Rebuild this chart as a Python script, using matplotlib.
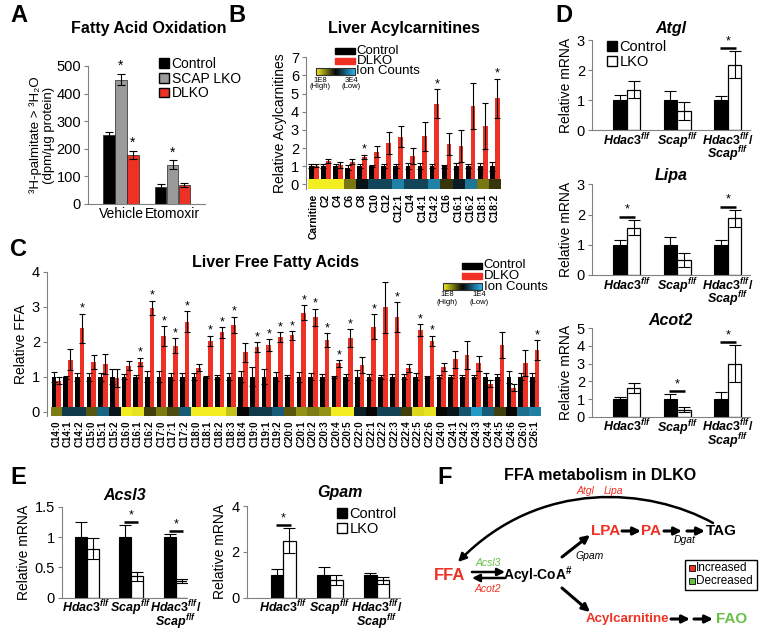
import numpy as np
import matplotlib
matplotlib.use('Agg')
import matplotlib.pyplot as plt
from matplotlib.patches import Patch, Rectangle, FancyArrowPatch
from matplotlib.path import Path
from matplotlib.colors import LinearSegmentedColormap, Normalize

plt.rcParams['font.family'] = ['Liberation Sans', 'DejaVu Sans']
plt.rcParams['mathtext.fontset'] = 'custom'
plt.rcParams['mathtext.it'] = 'Liberation Sans:italic:bold'
plt.rcParams['mathtext.rm'] = 'Liberation Sans:bold'
plt.rcParams['mathtext.bf'] = 'Liberation Sans:bold'

RED = '#ee3124'
GREEN = '#6abf45'
GRAY = '#9a9a9a'
AXC = '#808080'

# ---------------- A: fatty acid oxidation
fao_groups = ['Vehicle', 'Etomoxir']
fao_ctrl = [250, 62]
fao_ctrl_err = [12, 10]
fao_scap = [450, 143]
fao_scap_err = [20, 15]
fao_dlko = [178, 68]
fao_dlko_err = [15, 8]
fao_scap_sig = [True, True]
fao_dlko_sig = [True, False]

# ---------------- B: liver acylcarnitines
acyl_labels = ['Carnitine', 'C2', 'C4', 'C6', 'C8', 'C10', 'C12', 'C12:1', 'C14',
               'C14:1', 'C14:2', 'C16', 'C16:1', 'C16:2', 'C18:1', 'C18:2']
acyl_ctrl = [1.0, 1.0, 1.0, 0.92, 1.0, 1.0, 1.0, 1.0, 1.0, 1.0, 1.0, 1.0, 1.0, 1.0, 1.0, 1.0]
acyl_ctrl_err = [0.1, 0.1, 0.12, 0.12, 0.1, 0.05, 0.12, 0.12, 0.15, 0.15, 0.12, 0.08, 0.15, 0.12, 0.15, 0.25]
acyl_dlko = [1.02, 1.28, 1.06, 1.25, 1.52, 1.80, 2.29, 2.62, 1.56, 2.66, 4.43, 2.22, 2.11, 4.32, 3.21, 4.74]
acyl_dlko_err = [0.08, 0.12, 0.18, 0.15, 0.12, 0.32, 0.6, 0.57, 0.43, 0.8, 0.8, 0.6, 0.9, 1.28, 1.25, 1.07]
acyl_sig = ['C8', 'C14:2', 'C18:2']
acyl_ion_log = [8.0, 8.0, 8.0, 7.1, 6.1, 5.6, 5.6, 5.0, 5.6, 5.6, 5.0, 6.6, 6.0, 5.1, 7.1, 6.6]

# ---------------- C: liver free fatty acids
ffa_labels = ['C14:0', 'C14:1', 'C14:2', 'C15:0', 'C15:1', 'C15:2', 'C16:0', 'C16:1', 'C16:2',
              'C17:0', 'C17:1', 'C17:2', 'C18:0', 'C18:1', 'C18:2', 'C18:3', 'C18:4', 'C19:0',
              'C19:1', 'C19:2', 'C20:0', 'C20:1', 'C20:2', 'C20:3', 'C20:4', 'C20:5', 'C22:0',
              'C22:1', 'C22:2', 'C22:3', 'C22:4', 'C22:5', 'C22:6', 'C24:0', 'C24:1', 'C24:2',
              'C24:3', 'C24:4', 'C24:5', 'C24:6', 'C26:0', 'C26:1']
ffa_ctrl = [1.0, 0.98, 1.0, 1.0, 1.0, 1.0, 1.0, 1.0, 1.0, 1.0, 1.0, 1.0, 1.0, 1.0,
            1.0, 1.0, 1.0, 1.0, 1.0, 1.0, 1.0, 1.0, 1.0, 1.0, 1.0, 1.0, 1.0, 1.0,
            1.0, 1.0, 1.0, 1.0, 1.0, 1.0, 1.0, 1.0, 1.0, 1.0, 1.0, 1.0, 1.0, 1.0]
ffa_ctrl_err = [0.14, 0.05, 0.12, 0.12, 0.12, 0.22, 0.07, 0.04, 0.15, 0.15, 0.1, 0.1, 0.1, 0.03,
                0.06, 0.1, 0.15, 0.27, 0.22, 0.13, 0.05, 0.14, 0.1, 0.08, 0.03, 0.08, 0.19, 0.08,
                0.06, 0.08, 0.07, 0.1, 0.03, 0.05, 0.04, 0.05, 0.05, 0.1, 0.08, 0.17, 0.1, 0.12]
ffa_dlko = [0.89, 1.48, 2.38, 1.41, 1.36, 0.97, 1.32, 1.43, 2.97, 2.17, 1.89, 2.57, 1.25, 2.03,
            2.27, 2.48, 1.70, 1.85, 1.90, 2.14, 2.18, 2.83, 2.70, 2.05, 1.38, 2.10, 1.33, 2.43,
            2.98, 2.70, 1.25, 2.33, 2.02, 1.28, 1.50, 1.62, 1.38, 0.80, 1.90, 0.68, 1.39, 1.76]
ffa_dlko_err = [0.1, 0.3, 0.42, 0.2, 0.28, 0.25, 0.14, 0.11, 0.2, 0.28, 0.21, 0.3, 0.1, 0.14,
                0.15, 0.23, 0.27, 0.13, 0.17, 0.14, 0.12, 0.22, 0.24, 0.19, 0.1, 0.25, 0.22, 0.35,
                0.73, 0.43, 0.12, 0.17, 0.15, 0.11, 0.24, 0.41, 0.21, 0.1, 0.37, 0.1, 0.37, 0.29]
ffa_sig = ['C14:2', 'C16:1', 'C16:2', 'C17:0', 'C17:1', 'C17:2', 'C18:1', 'C18:2', 'C18:3',
           'C19:0', 'C19:1', 'C19:2', 'C20:0', 'C20:1', 'C20:2', 'C20:3', 'C20:4', 'C20:5',
           'C22:1', 'C22:3', 'C22:5', 'C22:6', 'C26:1']
ffa_ion_log = [7.0, 5.4, 5.4, 6.7, 4.9, 5.8, 8.0, 7.9, 6.5, 7.0, 6.6, 5.0, 8.0, 8.0, 8.0, 7.6,
               6.0, 5.4, 5.4, 5.0, 6.7, 7.2, 7.0, 7.2, 8.0, 8.0, 5.7, 6.0, 5.3, 5.3, 6.5, 7.8,
               7.9, 6.0, 5.8, 5.1, 4.3, 5.0, 6.5, 6.0, 4.8, 4.6]

# ---------------- D / E: relative mRNA
genotypes = [r'$\mathit{Hdac3}^{\mathit{f/f}}$', r'$\mathit{Scap}^{\mathit{f/f}}$',
             r'$\mathit{Hdac3}^{\mathit{f/f}}\mathit{/}$' + '\n' + r'$\mathit{Scap}^{\mathit{f/f}}$']
atgl_ctrl, atgl_ctrl_err = [1.0, 1.0, 1.0], [0.18, 0.3, 0.13]
atgl_lko, atgl_lko_err = [1.35, 0.62, 2.18], [0.28, 0.3, 0.45]
atgl_sig = [False, False, True]
lipa_ctrl, lipa_ctrl_err = [1.0, 1.0, 1.0], [0.17, 0.25, 0.17]
lipa_lko, lipa_lko_err = [1.57, 0.5, 1.87], [0.25, 0.24, 0.28]
lipa_sig = [True, False, True]
acot2_ctrl, acot2_ctrl_err = [1.0, 1.0, 1.0], [0.1, 0.28, 0.38]
acot2_lko, acot2_lko_err = [1.6, 0.4, 3.0], [0.28, 0.15, 1.05]
acot2_sig = [False, True, True]
acsl3_ctrl, acsl3_ctrl_err = [1.0, 1.0, 1.0], [0.25, 0.2, 0.05]
acsl3_lko, acsl3_lko_err = [0.81, 0.35, 0.27], [0.17, 0.08, 0.03]
acsl3_sig = [False, True, True]
gpam_ctrl, gpam_ctrl_err = [1.0, 1.0, 1.0], [0.25, 0.35, 0.05]
gpam_lko, gpam_lko_err = [2.48, 0.75, 0.75], [0.55, 0.22, 0.15]
gpam_sig = [True, False, False]

W, H = 763, 632
fig = plt.figure(figsize=(W / 100, H / 100), dpi=100)


def px_axes(left, right, top, bottom):
    return fig.add_axes([left / W, 1 - bottom / H, (right - left) / W, (bottom - top) / H])


def style_axes(ax):
    for s in ['top', 'right']:
        ax.spines[s].set_visible(False)
    for s in ['left', 'bottom']:
        ax.spines[s].set_color(AXC)
        ax.spines[s].set_linewidth(0.8)
    ax.tick_params(axis='y', length=3, color=AXC, width=0.8, pad=2)
    ax.tick_params(axis='x', length=0, pad=2)


ion_cmap = LinearSegmentedColormap.from_list('ion', ['#2ab4e8', '#050505', '#f2ee22'])

# ---------------- panel A
axA = px_axes(88, 205, 66, 204)
style_axes(axA)
xa = np.arange(len(fao_groups))
bw = 0.22
for off, vals, errs, col in [(-0.23, fao_ctrl, fao_ctrl_err, 'black'),
                             (0.0, fao_scap, fao_scap_err, GRAY),
                             (0.23, fao_dlko, fao_dlko_err, RED)]:
    axA.bar(xa + off, vals, bw, color=col, edgecolor='#222222', linewidth=0.5)
    axA.errorbar(xa + off, vals, yerr=errs, fmt='none', ecolor='k', elinewidth=0.8,
                 capsize=3, capthick=0.8)
for i in range(len(fao_groups)):
    if fao_scap_sig[i]:
        axA.text(xa[i], fao_scap[i] + fao_scap_err[i] + 4, '*', ha='center', va='bottom', fontsize=10)
    if fao_dlko_sig[i]:
        axA.text(xa[i] + 0.23, fao_dlko[i] + fao_dlko_err[i] + 4, '*', ha='center', va='bottom', fontsize=10)
axA.set_xlim(-0.64, 1.63)
axA.set_ylim(0, 500)
axA.set_yticks([0, 100, 200, 300, 400, 500])
axA.set_xticks(xa)
axA.set_xticklabels(fao_groups, fontsize=10)
axA.tick_params(axis='y', labelsize=10.5)
axA.set_ylabel('³H-palmitate > ³H₂O\n(dpm/µg protein)', fontsize=9.5, labelpad=1, linespacing=1.1)
axA.legend(handles=[Patch(facecolor='black', edgecolor='k', label='Control'),
                    Patch(facecolor=GRAY, edgecolor='k', label='SCAP LKO'),
                    Patch(facecolor=RED, edgecolor='k', label='DLKO')],
           loc='upper left', bbox_to_anchor=(159 / W, 1 - 57 / H), bbox_transform=fig.transFigure,
           frameon=False, fontsize=10, handlelength=0.7, handleheight=0.7, handletextpad=0.2,
           labelspacing=0.05, borderpad=0, borderaxespad=0)


def strip_panel(ax, labels, ctrl, ctrl_err, dlko, dlko_err, sig, ion_log, norm, h, star_pad):
    style_axes(ax)
    ax.spines['bottom'].set_visible(False)
    x = np.arange(len(labels))
    ax.bar(x - 0.2, ctrl, 0.4, color='black', zorder=2)
    ax.bar(x + 0.2, dlko, 0.4, color=RED, zorder=2)
    ax.errorbar(x - 0.2, ctrl, yerr=ctrl_err, fmt='none', ecolor='k', elinewidth=0.8,
                capsize=2.5, capthick=0.8, zorder=4)
    ax.errorbar(x + 0.2, dlko, yerr=dlko_err, fmt='none', ecolor='k', elinewidth=0.8,
                capsize=2.5, capthick=0.8, zorder=4)
    ax.bar(x, 2 * h, 1.0, bottom=-h, color=ion_cmap(norm(np.array(ion_log))), zorder=3)
    for i, lab in enumerate(labels):
        if lab in sig:
            ax.text(x[i] + 0.2, dlko[i] + dlko_err[i] + star_pad, '*', ha='center', va='bottom',
                    fontsize=9, zorder=5)
    ax.set_xticks(x)
    ax.set_xticklabels(labels, rotation=90, fontweight='bold', fontsize=7.5)
    ax.tick_params(axis='x', pad=3)


# ---------------- panel B
axB = px_axes(306, 502, 57.3, 189.4)
strip_panel(axB, acyl_labels, acyl_ctrl, acyl_ctrl_err, acyl_dlko, acyl_dlko_err, acyl_sig,
            acyl_ion_log, Normalize(np.log10(3e4), 8), 0.28, -0.05)
axB.set_xlim(-0.65, 15.6)
axB.set_ylim(-0.28, 7)
axB.set_yticks(range(8))
axB.tick_params(axis='y', labelsize=10.5)
axB.set_ylabel('Relative Acylcarnitines', fontsize=10, labelpad=3)

# ---------------- panel C
axC = px_axes(47, 543, 271.7, 416.3)
strip_panel(axC, ffa_labels, ffa_ctrl, ffa_ctrl_err, ffa_dlko, ffa_dlko_err, ffa_sig,
            ffa_ion_log, Normalize(4, 8), 0.13, -0.03)
axC.set_xlim(-0.8, 41.7)
axC.set_ylim(-0.13, 4)
axC.set_yticks(range(5))
axC.tick_params(axis='y', labelsize=10.5)
axC.tick_params(axis='x', labelsize=7)
axC.set_ylabel('Relative FFA', fontsize=10, labelpad=3)


def mrna_panel(rect, title, ctrl, ctrl_err, lko, lko_err, sig, ymax, yticks, xlim, legend_at=None,
               title_pad=5):
    ax = px_axes(*rect)
    style_axes(ax)
    x = np.arange(len(genotypes))
    ax.bar(x - 0.135, ctrl, 0.27, color='black', edgecolor='black', linewidth=0.8)
    ax.bar(x + 0.135, lko, 0.27, color='white', edgecolor='black', linewidth=0.9)
    ax.errorbar(x - 0.135, ctrl, yerr=ctrl_err, fmt='none', ecolor='k', elinewidth=0.8,
                capsize=4, capthick=0.8)
    ax.errorbar(x + 0.135, lko, yerr=lko_err, fmt='none', ecolor='k', elinewidth=0.8,
                capsize=4, capthick=0.8)
    for i in range(len(x)):
        if sig[i]:
            top = max(ctrl[i] + ctrl_err[i], lko[i] + lko_err[i]) + 0.035 * ymax
            ax.plot([x[i] - 0.16, x[i] + 0.16], [top, top], color='k', lw=1.8, solid_capstyle='butt')
            ax.text(x[i], top + 0.01 * ymax, '*', ha='center', va='bottom', fontsize=9)
    ax.set_xlim(*xlim)
    ax.set_ylim(0, ymax)
    ax.set_yticks(yticks)
    ax.set_yticklabels([f'{t:g}' for t in yticks])
    ax.tick_params(axis='y', labelsize=10.5)
    ax.tick_params(axis='x', pad=1)
    ax.set_xticks(x)
    ax.set_xticklabels(genotypes, fontsize=9, linespacing=0.75)
    ax.set_ylabel('Relative mRNA', fontsize=10, labelpad=3)
    ax.set_title(title, fontsize=11.5, fontweight='bold', style='italic', pad=title_pad)
    if legend_at is not None:
        ax.legend(handles=[Patch(facecolor='black', edgecolor='k', label='Control'),
                           Patch(facecolor='white', edgecolor='k', label='LKO')],
                  loc='upper left', bbox_to_anchor=(legend_at[0] / W, 1 - legend_at[1] / H),
                  bbox_transform=fig.transFigure, frameon=False, fontsize=10.5, handlelength=0.7,
                  handleheight=0.7, handletextpad=0.15, labelspacing=0.05, borderpad=0,
                  borderaxespad=0)
    return ax


mrna_panel((592, 750, 40, 130), 'Atgl', atgl_ctrl, atgl_ctrl_err, atgl_lko, atgl_lko_err,
           atgl_sig, 3, [0, 1, 2, 3], (-0.69, 2.44), legend_at=(607, 40))
mrna_panel((592, 750, 184.3, 275), 'Lipa', lipa_ctrl, lipa_ctrl_err, lipa_lko, lipa_lko_err,
           lipa_sig, 3, [0, 1, 2, 3], (-0.69, 2.44), title_pad=3)
mrna_panel((592, 750, 328.3, 416.7), 'Acot2', acot2_ctrl, acot2_ctrl_err, acot2_lko, acot2_lko_err,
           acot2_sig, 5, [0, 1, 2, 3, 4, 5], (-0.69, 2.44), title_pad=1)
mrna_panel((62, 187, 507, 597.5), 'Acsl3', acsl3_ctrl, acsl3_ctrl_err, acsl3_lko, acsl3_lko_err,
           acsl3_sig, 1.5, [0, 0.5, 1, 1.5], (-0.55, 2.25))
mrna_panel((246.7, 400, 506, 597.5), '', gpam_ctrl, gpam_ctrl_err, gpam_lko, gpam_lko_err,
           gpam_sig, 4, [0, 2, 4], (-0.78, 2.5), legend_at=(337, 507))

# ---------------- overlay (pixel coordinates): letters, titles, ion legends, panel F
ov = fig.add_axes([0, 0, 1, 1])
ov.axis('off')
ov.patch.set_alpha(0)

for letter, (lx, ly) in {'A': (10, 15), 'B': (228, 15), 'C': (10, 249), 'D': (555, 15),
                         'E': (10, 477), 'F': (437, 477)}.items():
    ov.text(lx, ly, letter, fontsize=17, fontweight='bold', va='center', ha='left')

ov.text(149, 28, 'Fatty Acid Oxidation', fontsize=11.5, fontweight='bold', ha='center', va='center')
ov.text(404, 28, 'Liver Acylcarnitines', fontsize=11.5, fontweight='bold', ha='center', va='center')
ov.text(275, 263, 'Liver Free Fatty Acids', fontsize=11.5, fontweight='bold', ha='center', va='center')
ov.text(340, 492, 'Gpam', fontsize=11.5, fontweight='bold', style='italic', ha='center', va='center')


def ion_legend(x0, y0, dy, grad_w, hi, lo, hi_pos, lo_pos, fs_small):
    ov.add_patch(Rectangle((x0 + grad_w - 20, y0 - 3), 20, 6, color='black'))
    ov.add_patch(Rectangle((x0 + grad_w - 20, y0 + dy - 3), 20, 6, color=RED))
    grad = np.linspace(1, 0, 60)[None, :]
    gy = y0 + 2 * dy
    ov.imshow(grad, cmap=ion_cmap, extent=[x0, x0 + grad_w, gy + 3.5, gy - 3.5], aspect='auto',
              zorder=2)
    ov.add_patch(Rectangle((x0, gy - 3.5), grad_w, 7, fill=False, edgecolor='#333333', lw=0.8,
                           zorder=3))
    tx = x0 + grad_w + 1.5
    ov.text(tx, y0, 'Control', fontsize=9.5, va='center')
    ov.text(tx, y0 + dy, 'DLKO', fontsize=9.5, va='center')
    ov.text(tx, gy, 'Ion Counts', fontsize=9.5, va='center')
    ov.text(x0 + grad_w * hi_pos, gy + 5, hi + '\n(High)', fontsize=fs_small, ha='center', va='top',
            linespacing=1.0)
    ov.text(x0 + grad_w * lo_pos, gy + 5, lo + '\n(Low)', fontsize=fs_small, ha='center', va='top',
            linespacing=1.0)


ion_legend(316, 50.5, 10.5, 39, '1E8', '3E4', 0.1, 0.9, 5.5)
ion_legend(443, 265.5, 10.5, 39, '1E8', '1E4', 0.1, 0.92, 5.5)

# panel F diagram
ov.text(600, 475, 'FFA metabolism in DLKO', fontsize=11.5, fontweight='bold', ha='center', va='center')
ov.text(585, 491, 'Atgl', color=RED, fontsize=7.5, style='italic', ha='center', va='center')
ov.text(613, 491, 'Lipa', color=RED, fontsize=7.5, style='italic', ha='center', va='center')
curve = Path([(713, 523), (650, 488), (540, 478), (458, 562)],
             [Path.MOVETO, Path.CURVE4, Path.CURVE4, Path.CURVE4])
ov.add_patch(FancyArrowPatch(path=curve, arrowstyle='-|>', mutation_scale=12, lw=1.8, color='k'))


def arr(x1, y1, x2, y2, lw=2.2):
    ov.annotate('', xy=(x2, y2), xytext=(x1, y1),
                arrowprops=dict(arrowstyle='-|>', lw=lw, color='k', mutation_scale=11,
                                shrinkA=0, shrinkB=0))


ov.text(450, 575, 'FFA', color=RED, fontsize=12, fontweight='bold', ha='center', va='center')
arr(472, 572, 505, 572, lw=1.8)
arr(505, 578, 472, 578, lw=1.8)
ov.text(488, 563, 'Acsl3', color=GREEN, fontsize=7.5, style='italic', ha='center', va='center')
ov.text(488, 589, 'Acot2', color=RED, fontsize=7.5, style='italic', ha='center', va='center')
ov.text(503, 575, r'Acyl-CoA$^{\#}$', fontsize=10, fontweight='bold', ha='left', va='center')
arr(562, 557, 590, 535)
ov.text(575, 556, 'Gpam', fontsize=7.5, style='italic', ha='left', va='center')
ov.text(606, 531, 'LPA', color=RED, fontsize=11, fontweight='bold', ha='center', va='center')
arr(622, 531, 641, 531)
ov.text(651, 531, 'PA', color=RED, fontsize=11, fontweight='bold', ha='center', va='center')
arr(664, 531, 682, 531)
arr(687, 531, 705, 531)
ov.text(706, 531, 'TAG', fontsize=11, fontweight='bold', ha='left', va='center')
ov.text(685, 540, 'Dgat', fontsize=7.5, style='italic', ha='center', va='center')
arr(562, 588, 590, 612)
ov.text(627, 619, 'Acylcarnitine', color=RED, fontsize=9.5, fontweight='bold', ha='center', va='center')
arr(671, 619, 690, 619)
arr(694, 619, 713, 619)
ov.text(716, 619, 'FAO', color=GREEN, fontsize=11, fontweight='bold', ha='left', va='center')
ov.add_patch(Rectangle((685, 560), 72, 30, fill=False, edgecolor='k', lw=1))
ov.add_patch(Rectangle((689, 565), 6, 6, facecolor=RED, edgecolor='k', lw=0.6))
ov.add_patch(Rectangle((689, 578), 6, 6, facecolor=GREEN, edgecolor='k', lw=0.6))
ov.text(696, 568, 'Increased', fontsize=8.5, va='center', ha='left')
ov.text(696, 581, 'Decreased', fontsize=8.5, va='center', ha='left')

ov.set_xlim(0, W)
ov.set_ylim(H, 0)

fig.savefig('out.png', dpi=100)
